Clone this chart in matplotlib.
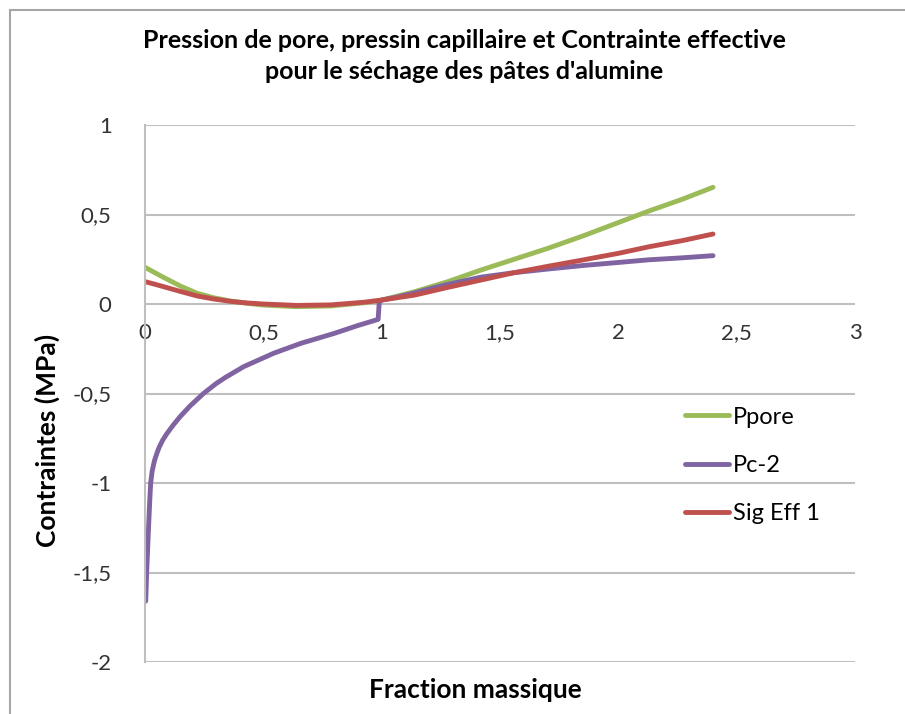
import numpy as np
import matplotlib.pyplot as plt
from matplotlib.ticker import FuncFormatter, MultipleLocator
from matplotlib.patches import Rectangle

plt.rcParams['font.family'] = ['Lato', 'DejaVu Sans']

# Pression de pore
x_ppore = [0.0, 0.04, 0.078, 0.15, 0.22, 0.29, 0.36, 0.43, 0.50, 0.64, 0.785, 0.926, 1.0,
           1.14, 1.28, 1.42, 1.56, 1.70, 1.85, 2.0, 2.13, 2.27, 2.40]
y_ppore = [0.205, 0.176, 0.149, 0.1, 0.06, 0.035, 0.017, 0.004, -0.006, -0.015, -0.011, 0.007, 0.022,
           0.069, 0.125, 0.19, 0.25, 0.31, 0.38, 0.455, 0.52, 0.585, 0.652]

# Pression capillaire
x_pc = [0.003, 0.007, 0.014, 0.02, 0.024, 0.03, 0.04, 0.05, 0.06, 0.075, 0.092, 0.12, 0.148,
        0.19, 0.247, 0.30, 0.34, 0.417, 0.544, 0.658, 0.80, 0.90, 0.985, 0.99, 1.0,
        1.07, 1.14, 1.21, 1.28, 1.42, 1.56, 1.70, 1.85, 2.0, 2.13, 2.27, 2.40]
y_pc = [-1.66, -1.5, -1.28, -1.1, -1.0, -0.935, -0.875, -0.835, -0.8, -0.76, -0.725, -0.675, -0.63,
        -0.57, -0.5, -0.445, -0.41, -0.35, -0.275, -0.22, -0.164, -0.12, -0.086, 0.015, 0.022,
        0.04, 0.062, 0.087, 0.11, 0.15, 0.175, 0.195, 0.215, 0.232, 0.247, 0.258, 0.27]

# Contrainte effective
x_sig = [0.0, 0.04, 0.078, 0.15, 0.22, 0.29, 0.36, 0.43, 0.50, 0.64, 0.785, 0.926, 1.0,
         1.14, 1.28, 1.42, 1.56, 1.70, 1.85, 2.0, 2.13, 2.27, 2.40]
y_sig = [0.125, 0.111, 0.097, 0.07, 0.045, 0.028, 0.015, 0.006, 0.0, -0.008, -0.005, 0.01, 0.022,
         0.05, 0.093, 0.134, 0.175, 0.21, 0.246, 0.283, 0.32, 0.354, 0.391]

fig = plt.figure(figsize=(9.05, 7.14), dpi=100)
ax = fig.add_axes([145/905, 52/714, 710/905, 537/714])

ax.plot(x_ppore, y_ppore, color='#9BBB59', lw=3.5, label='Ppore', solid_capstyle='round', solid_joinstyle='round')
ax.plot(x_pc, y_pc, color='#8064A2', lw=3.5, label='Pc-2', solid_capstyle='round', solid_joinstyle='round')
ax.plot(x_sig, y_sig, color='#C0504D', lw=3.5, label='Sig Eff 1', solid_capstyle='round', solid_joinstyle='round')

ax.set_xlim(0, 3)
ax.set_ylim(-2, 1)
ax.yaxis.set_major_locator(MultipleLocator(0.5))
ax.xaxis.set_major_locator(MultipleLocator(0.5))
ax.grid(axis='y', color='#BFBFBF', lw=1.5)
ax.set_axisbelow(True)

fmt = FuncFormatter(lambda v, p: ('%g' % v).replace('.', ','))
ax.xaxis.set_major_formatter(fmt)
ax.yaxis.set_major_formatter(fmt)

for s in ['top', 'right', 'bottom']:
    ax.spines[s].set_visible(False)
ax.spines['left'].set_color('#BFBFBF')
ax.spines['left'].set_linewidth(1.5)
ax.spines['bottom'].set_position(('data', 0))

ax.tick_params(length=0, labelsize=16, colors='#333333')
ax.tick_params(axis='y', pad=24)
ax.tick_params(axis='x', pad=14)

ax.set_xlabel('Fraction massique', fontsize=19, fontweight='bold')
ax.xaxis.set_label_coords(0.465, -0.052)
ax.xaxis.label.set_va('center')
ax.set_ylabel('Contraintes (MPa)', fontsize=19, fontweight='bold')
ax.yaxis.set_label_coords(-0.138, 0.413)
ax.yaxis.label.set_va('center')

fig.text(0.513, 0.9216, "Pression de pore, pressin capillaire et Contrainte effective\npour le séchage des pâtes d'alumine",
         ha='center', va='center', fontsize=18, fontweight='bold', linespacing=1.45)

ax.legend(loc='upper left', bbox_to_anchor=(0.73, 0.515), frameon=False,
          fontsize=17, handlelength=1.9, handletextpad=0.15, labelspacing=1.15)

# chart frame
fig.patches.append(Rectangle((10/905, -0.1), 1.0, (714-10)/714 + 0.1,
                             transform=fig.transFigure, fill=False,
                             edgecolor='#A6A6A6', lw=1.5))

fig.savefig('out.png', dpi=100, facecolor='white')
